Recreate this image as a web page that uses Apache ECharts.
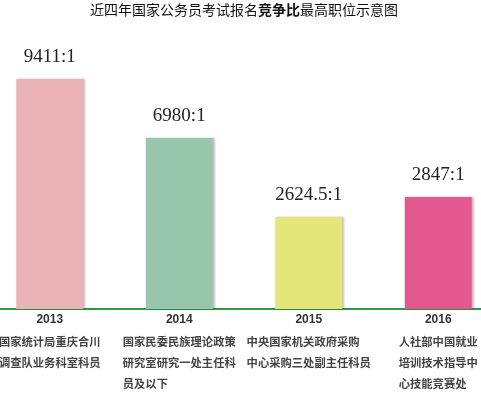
<!DOCTYPE html>
<html>
<head>
<meta charset="utf-8">
<script src="https://cdn.jsdelivr.net/npm/echarts@6/dist/echarts.min.js"></script>
<style>
  html, body { margin: 0; padding: 0; background: #fff; overflow: hidden; }
  body { width: 481px; height: 399px; position: relative; }
  /* 原图两端的类目带超出画面，所以容器比窗口宽一些 */
  #chart { position: absolute; left: -15px; top: 0; width: 518px; height: 399px; }
</style>
</head>
<body>
<div id="chart"></div>
<script>
// 年份
var years = ['2013', '2014', '2015', '2016'];
// 竞争比（x:1）
var ratios = ['9411', '6980', '2624.5', '2847'];
// 原图柱子画的高度（示意，不按比例）
var barLengths = [230, 171, 92, 112];
// 职位名称，按原图换行
var posts = [
  ['国家统计局重庆合川', '调查队业务科室科员'],
  ['国家民委民族理论政策', '研究室研究一处主任科', '员及以下'],
  ['中央国家机关政府采购', '中心采购三处副主任科员'],
  ['人社部中国就业', '培训技术指导中', '心技能竞赛处']
];
var barColors = ['#eab3b6', '#97c6ad', '#e5e67a', '#e3588f'];

var myChart = echarts.init(document.getElementById('chart'));
myChart.setOption({
  animation: false,
  title: {
    text: '{a|近四年国家公务员考试报名}{b|竞争比}{a|最高职位示意图}',
    left: 'center',
    top: -2,
    textStyle: {
      fontWeight: 'normal',
      rich: {
        a: { fontSize: 14, color: '#111', fontWeight: 'normal', fontFamily: 'Noto Sans CJK SC' },
        b: { fontSize: 14, color: '#111', fontWeight: 'bold', fontFamily: 'Noto Sans CJK SC' }
      }
    }
  },
  grid: {
    left: 0,
    right: 0,
    top: 59,
    height: 250,
    containLabel: false
  },
  xAxis: {
    type: 'category',
    data: years,
    axisLine: {
      lineStyle: { color: '#2a9a48', width: 2 }
    },
    axisTick: {
      length: 3,
      lineStyle: { color: '#2a9a48', width: 2 }
    },
    axisLabel: {
      interval: 0,
      margin: 0,
      formatter: function (val, idx) {
        return '{y|' + val + '}\n' + posts[idx].map(function (s) {
          return '{d|' + s + '}';
        }).join('\n');
      },
      rich: {
        y: {
          fontSize: 12, fontWeight: 'bold', color: '#333',
          fontFamily: 'Liberation Sans', align: 'center', lineHeight: 22
        },
        d: {
          fontSize: 11.3, fontWeight: 'bold', color: '#444',
          fontFamily: 'Noto Sans CJK SC', align: 'left', lineHeight: 21
        }
      }
    }
  },
  yAxis: {
    type: 'value',
    min: 0,
    max: 250,
    show: false,
    splitLine: { show: false }
  },
  series: [
    {
      type: 'bar',
      barWidth: 67,
      data: barLengths.map(function (v, i) {
        return {
          value: v,
          itemStyle: {
            color: barColors[i],
            shadowColor: 'rgba(0,0,0,0.25)',
            shadowOffsetX: 2,
            shadowBlur: 2
          }
        };
      }),
      label: {
        show: true,
        position: 'top',
        distance: 12,
        fontFamily: 'Liberation Serif',
        fontSize: 19,
        color: '#222',
        formatter: function (p) {
          return ratios[p.dataIndex] + ':1';
        }
      }
    }
  ]
});
</script>
</body>
</html>
